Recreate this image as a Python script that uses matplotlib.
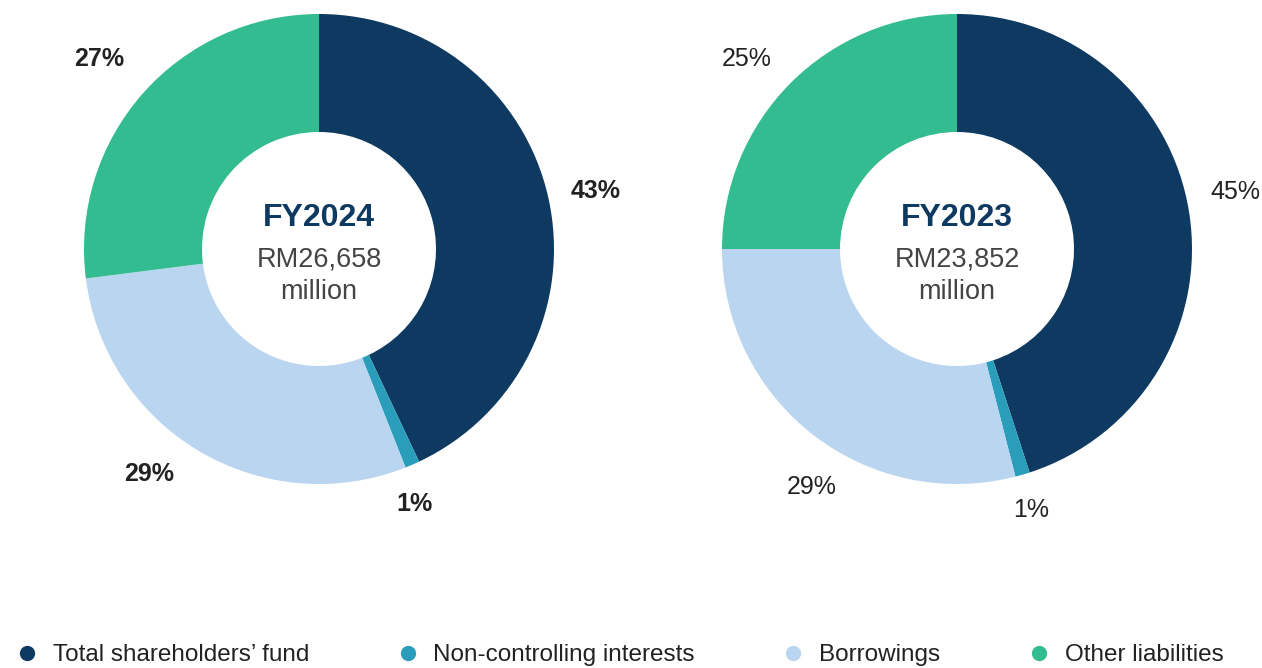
"""Composición del capital: FY2024 vs FY2023 (dos donas)."""

import matplotlib.pyplot as plt
from matplotlib.lines import Line2D

plt.rcParams['font.family'] = ['Liberation Sans', 'DejaVu Sans']

categorias = ['Total shareholders\u2019 fund', 'Non-controlling interests',
              'Borrowings', 'Other liabilities']
colores = ['#0e3a61', '#2a9dba', '#b9d5ef', '#33bc8f']

anios = ['FY2024', 'FY2023']
totales = ['RM26,658', 'RM23,852']
valores_2024 = [43, 1, 29, 27]
valores_2023 = [45, 1, 29, 25]
etiquetas_en_negrita = [True, False]

# pequeños ajustes (px) de la posición de las etiquetas de porcentaje
ajustes = [
    [(1, -4), (-16, 4), (-26, 18), (-8, 4)],
    [(0, 13), (-5, 10), (28, -15), (-11, -9)],
]

W, H = 1262, 668
fig = plt.figure(figsize=(W / 100, H / 100), dpi=100)
ax = fig.add_axes([0, 0, 1, 1])

centros = [(319, H - 249), (957, H - 249)]
R = 235
ANCHO = 118

for valores, anio, total, centro, negrita, ajuste in zip(
        (valores_2024, valores_2023), anios, totales, centros,
        etiquetas_en_negrita, ajustes):
    cunas, textos = ax.pie(
        valores, colors=colores, startangle=90, counterclock=False,
        radius=R, center=centro, labels=[f'{v}%' for v in valores],
        labeldistance=1.2,
        wedgeprops=dict(width=ANCHO, linewidth=0),
        textprops=dict(fontsize=18, color='#222222',
                       fontweight='bold' if negrita else 'normal'))
    for t, (dx, dy) in zip(textos, ajuste):
        x, y = t.get_position()
        t.set_position((x + dx, y + dy))
        t.set_ha('center')
        t.set_va('center')
    cx, cy = centro
    ax.text(cx, cy + 31, anio, ha='center', va='center', fontsize=23,
            fontweight='bold', color='#0e3a61')
    ax.text(cx, cy - 10, total, ha='center', va='center', fontsize=19.5,
            color='#444444')
    ax.text(cx, cy - 43, 'million', ha='center', va='center', fontsize=19.5,
            color='#444444')

ax.set_xlim(0, W)
ax.set_ylim(0, H)
ax.set_aspect('equal')
ax.axis('off')

manejadores = [Line2D([], [], marker='o', linestyle='', markersize=11,
                      markerfacecolor=c, markeredgewidth=0)
               for c in colores]
fig.legend(manejadores, categorias, loc='center left', ncol=4,
           bbox_to_anchor=(15 / W, 1 - 655 / H), frameon=False, fontsize=17.5,
           handlelength=1.0, handletextpad=0.56, columnspacing=3.55,
           borderaxespad=0, borderpad=0, labelcolor='#222222')

fig.savefig('out.png', dpi=100)
